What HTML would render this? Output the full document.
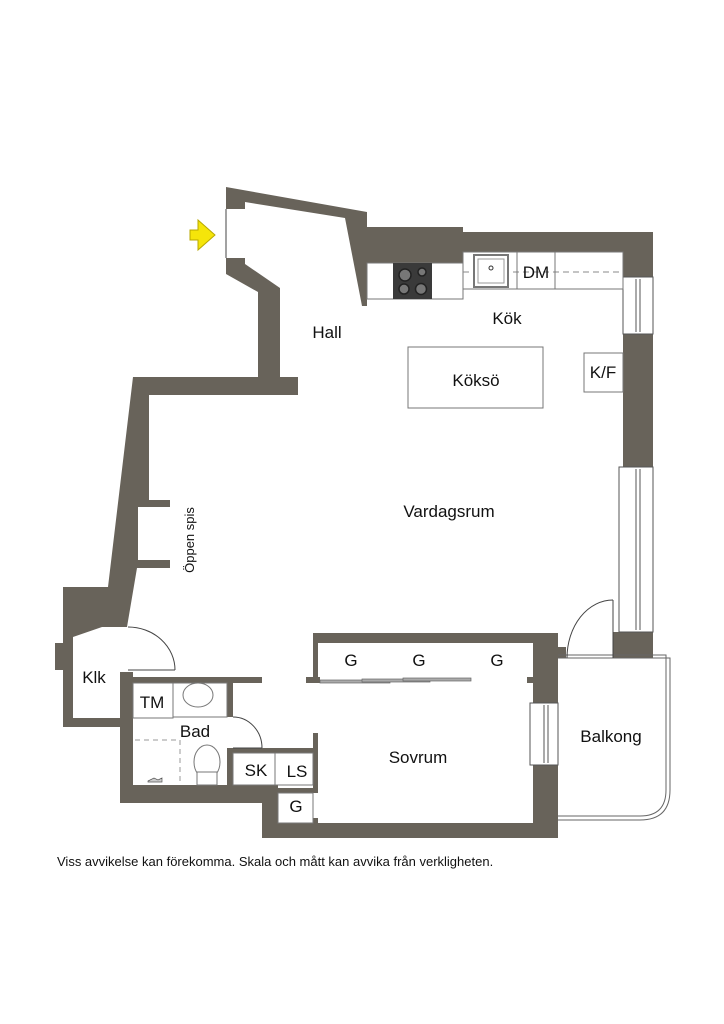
<!DOCTYPE html>
<html><head><meta charset="utf-8"><style>
html,body{margin:0;padding:0;background:#fff;}
svg{display:block;}
text{font-family:"Liberation Sans",sans-serif;fill:#111;}
</style></head><body>
<svg width="724" height="1024" viewBox="0 0 724 1024" xmlns="http://www.w3.org/2000/svg">
<g fill="#68635a" stroke="none">
<!-- entrance top wall -->
<polygon points="226,187 367,212 367,227 463,227 463,232 653,232 653,277 623,277 623,252 463,252 463,263 367,263 367,306 362,306 345,218 245,202 245,209 226,209"/>
<!-- right wall between windows -->
<rect x="623" y="334" width="30" height="133"/>
<!-- hall left wall -->
<polygon points="226,258 245,258 245,264 280,288 280,377 298,377 298,395 258,395 258,292 226,274"/>
<!-- left wall top + slanted -->
<polygon points="133,377 258,377 258,395 149,395 149,500 170,500 170,507 138,507 138,560 170,560 170,568 137,568 127,627 102,627 73,637 73,718 120,718 120,672 133,672 133,727 63,727 63,670 55,670 55,643 63,643 63,587 108,587"/>
<!-- bath walls -->
<polygon points="120,677 262,677 262,683 133,683 133,785 278,785 278,823 313,823 313,818 318,818 318,823 533,823 533,683 527,683 527,677 533,677 533,643 318,643 318,677 320,677 320,683 306,683 306,677 313,677 313,633 558,633 558,838 262,838 262,803 120,803"/>
<rect x="227" y="683" width="6" height="34"/>
<rect x="227" y="748" width="91" height="5"/>
<rect x="313" y="733" width="5" height="60"/>
<rect x="278" y="788" width="40" height="5"/>
<rect x="227" y="748" width="6" height="37"/>
<!-- balcony door area -->
<rect x="533" y="634" width="25" height="24"/>
<rect x="558" y="647" width="8" height="11"/>
<polygon points="613,632 620,632 620,632 653,632 653,658 613,658"/>
</g>
<!-- windows -->
<g fill="#fff" stroke="#555" stroke-width="1">
<rect x="623" y="277" width="30" height="57"/>
<rect x="619" y="467" width="34" height="165"/>
<rect x="530" y="703" width="28" height="62"/>
</g>
<g stroke="#555" stroke-width="1" fill="none">
<line x1="636" y1="279" x2="636" y2="332"/><line x1="640" y1="279" x2="640" y2="332"/>
<line x1="636" y1="469" x2="636" y2="630"/><line x1="640" y1="469" x2="640" y2="630"/>
<line x1="544" y1="705" x2="544" y2="763"/><line x1="548" y1="705" x2="548" y2="763"/>
</g>
<!-- balcony -->
<path d="M558,658 H670 V790 Q670,820 640,820 H558" fill="none" stroke="#666" stroke-width="1"/>
<path d="M558,655 H666 V790 Q666,816 640,816 H558" fill="none" stroke="#666" stroke-width="1"/>
<!-- doors -->
<g fill="none" stroke="#444" stroke-width="1">
<line x1="613" y1="600" x2="613" y2="658"/>
<path d="M613,600 A46,58 0 0 0 567,658"/>
<line x1="128" y1="670" x2="175" y2="670"/>
<path d="M128,627 A47,43 0 0 1 175,670"/>
<line x1="233" y1="748" x2="262" y2="748"/>
<path d="M233,717 A29,31 0 0 1 262,748"/>
<line x1="226" y1="209" x2="226" y2="258"/>
</g>
<!-- closet slide doors -->
<g fill="#aaa" stroke="#666" stroke-width="0.7">
<rect x="320" y="680" width="70" height="3"/>
<rect x="362" y="679" width="68" height="3"/>
<rect x="403" y="678" width="68" height="3"/>
</g>
<!-- kitchen -->
<g fill="#fff" stroke="#777" stroke-width="1">
<rect x="367" y="263" width="96" height="36"/>
<rect x="463" y="252" width="160" height="37"/>
<rect x="408" y="347" width="135" height="61"/>
<rect x="584" y="353" width="39" height="39"/>
</g>
<line x1="463" y1="272" x2="623" y2="272" stroke="#888" stroke-dasharray="6,4"/>
<line x1="517" y1="252" x2="517" y2="289" stroke="#777"/>
<line x1="555" y1="252" x2="555" y2="289" stroke="#777"/>
<rect x="474" y="255" width="34" height="32" fill="#fff" stroke="#777" stroke-width="2"/>
<rect x="478" y="259" width="26" height="24" fill="#fff" stroke="#999"/>
<circle cx="491" cy="268" r="2" fill="none" stroke="#333"/>
<rect x="393" y="263" width="39" height="36" fill="#3a3a3a"/>
<g fill="#777" stroke="#222" stroke-width="1.5">
<circle cx="405" cy="275" r="6"/><circle cx="422" cy="272" r="4"/>
<circle cx="404" cy="289" r="5"/><circle cx="421" cy="289" r="5.5"/>
</g>
<!-- bath fixtures -->
<g fill="#fff" stroke="#777">
<rect x="133" y="683" width="40" height="35"/>
<rect x="173" y="683" width="54" height="34"/>
<ellipse cx="198" cy="695" rx="15" ry="12"/>
<rect x="233" y="753" width="42" height="32"/>
<rect x="275" y="753" width="38" height="32"/>
<rect x="278" y="793" width="35" height="30"/>
<ellipse cx="207" cy="762" rx="13" ry="17"/>
<rect x="197" y="772" width="20" height="13"/>
</g>
<polyline points="135,740 180,740 180,785" fill="none" stroke="#999" stroke-dasharray="5,4"/>
<path d="M148,781 l6,-3 l4,2 l4,-2 v4 h-14z" fill="#ccc" stroke="#555" stroke-width="0.7"/>
<!-- entrance arrow -->
<polygon points="190,230 198,230 198,220 215,235 198,250 198,240 190,240" fill="#f5e50a" stroke="#b8a800" stroke-width="1"/>
<!-- labels -->
<g font-size="17">
<text x="327" y="338" text-anchor="middle">Hall</text>
<text x="507" y="324" text-anchor="middle">Kök</text>
<text x="476" y="386" text-anchor="middle">Köksö</text>
<text x="603" y="378" text-anchor="middle">K/F</text>
<text x="536" y="278" text-anchor="middle">DM</text>
<text x="449" y="517" text-anchor="middle">Vardagsrum</text>
<text x="94" y="683" text-anchor="middle">Klk</text>
<text x="152" y="708" text-anchor="middle">TM</text>
<text x="195" y="737" text-anchor="middle">Bad</text>
<text x="256" y="776" text-anchor="middle">SK</text>
<text x="297" y="777" text-anchor="middle">LS</text>
<text x="296" y="812" text-anchor="middle">G</text>
<text x="351" y="666" text-anchor="middle">G</text>
<text x="419" y="666" text-anchor="middle">G</text>
<text x="497" y="666" text-anchor="middle">G</text>
<text x="418" y="763" text-anchor="middle">Sovrum</text>
<text x="611" y="742" text-anchor="middle">Balkong</text>
</g>
<text x="0" y="0" font-size="13" text-anchor="middle" transform="translate(194,540) rotate(-90)">Öppen spis</text>
<text x="57" y="866" font-size="13">Viss avvikelse kan förekomma. Skala och mått kan avvika från verkligheten.</text>
</svg>
</body></html>
